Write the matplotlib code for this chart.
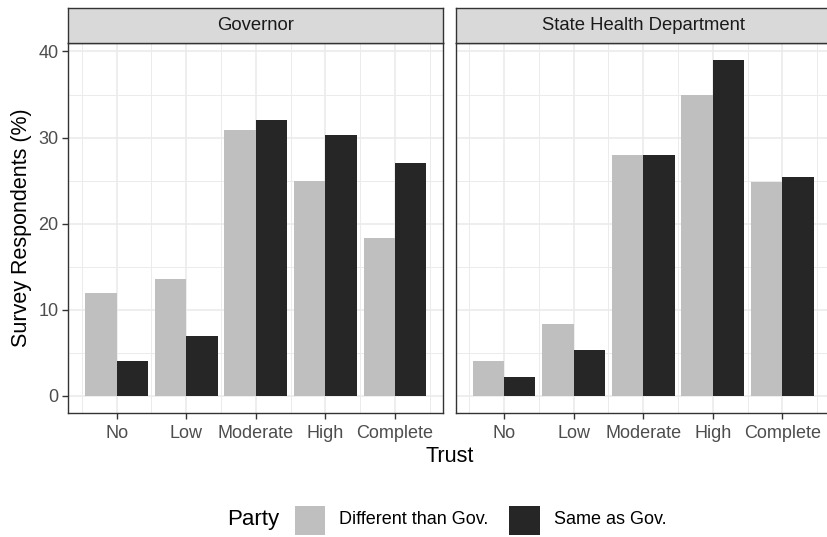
import matplotlib
matplotlib.use('Agg')
import matplotlib.pyplot as plt
from matplotlib.patches import Rectangle
import numpy as np

plt.rcParams['font.family'] = ['Liberation Sans', 'DejaVu Sans']

trust_levels = ['No', 'Low', 'Moderate', 'High', 'Complete']
panels = ['Governor', 'State Health Department']
party_labels = ['Different than Gov.', 'Same as Gov.']
different_gov = [12.0, 13.6, 30.9, 25.0, 18.3]
same_gov = [4.0, 6.9, 32.0, 30.3, 27.0]
different_shd = [4.1, 8.4, 28.0, 34.9, 24.8]
same_shd = [2.2, 5.35, 28.0, 39.0, 25.4]

light = '#BFBFBF'
dark = '#262626'
grid_col = '#EBEBEB'
edge_col = '#333333'
tick_col = '#4D4D4D'

W, H = 828, 537
fig = plt.figure(figsize=(W / 100, H / 100), dpi=100)

def fx(px):
    return px / W

def fy(py):
    return 1 - py / H

panel_w = 375.0
panel_top, panel_bot = 43.3, 412.7
strip_top = 8.3
lefts = [68.3, 455.7]
data = [(different_gov, same_gov), (different_shd, same_shd)]

x = np.arange(1, len(trust_levels) + 1)
bw = 0.45
for i, (name, (diff, same)) in enumerate(zip(panels, data)):
    ax = fig.add_axes([fx(lefts[i]), fy(panel_bot), fx(panel_w), (panel_bot - panel_top) / H])
    ax.set_axisbelow(True)
    ax.bar(x - bw / 2, diff, width=bw, color=light, zorder=2)
    ax.bar(x + bw / 2, same, width=bw, color=dark, zorder=2)
    ax.set_xlim(0.305, 5.695)
    ax.set_ylim(-1.95, 40.95)
    ax.set_xticks(x)
    ax.set_xticklabels(trust_levels)
    ax.set_xticks(np.arange(0.5, 6, 1.0), minor=True)
    ax.set_yticks([0, 10, 20, 30, 40])
    ax.set_yticks([5, 15, 25, 35], minor=True)
    ax.grid(which='major', color=grid_col, linewidth=1.2)
    ax.grid(which='minor', color=grid_col, linewidth=0.7)
    ax.tick_params(which='minor', length=0)
    ax.tick_params(which='major', length=4, width=1.0, color=edge_col,
                   labelsize=13, labelcolor=tick_col, pad=3)
    ax.tick_params(axis='x', pad=5)
    for s in ax.spines.values():
        s.set_color(edge_col)
        s.set_linewidth(1.0)
    if i == 0:
        ax.set_ylabel('Survey Respondents (%)', fontsize=15.5, color='black', labelpad=5)
    else:
        ax.set_yticklabels([])
        ax.tick_params(axis='y', length=0)

    # facet strip
    sax = fig.add_axes([fx(lefts[i]), fy(panel_top), fx(panel_w), (panel_top - strip_top) / H])
    sax.set_facecolor('#D9D9D9')
    sax.set_xticks([])
    sax.set_yticks([])
    for s in sax.spines.values():
        s.set_color(edge_col)
        s.set_linewidth(1.0)
    sax.text(0.5, 0.5, name, ha='center', va='center', fontsize=13.3, color='#1A1A1A',
             transform=sax.transAxes)

fig.text(fx(450), fy(456), 'Trust', ha='center', va='center', fontsize=15.5)

# legend
ly = 520
fig.text(fx(227), fy(ly), 'Party', ha='left', va='center', fontsize=16)
key_x = [295, 509.5]
text_x = [339.5, 554]
keys = [light, dark]
for kx, tx, col, lab in zip(key_x, text_x, keys, party_labels):
    fig.patches.append(Rectangle((fx(kx), fy(534.5)), fx(30.5), 28.5 / H,
                                 transform=fig.transFigure, facecolor=col, edgecolor='none'))
    fig.text(fx(tx), fy(ly), lab, ha='left', va='center', fontsize=13)

fig.savefig('out.png', dpi=100, facecolor='white')
